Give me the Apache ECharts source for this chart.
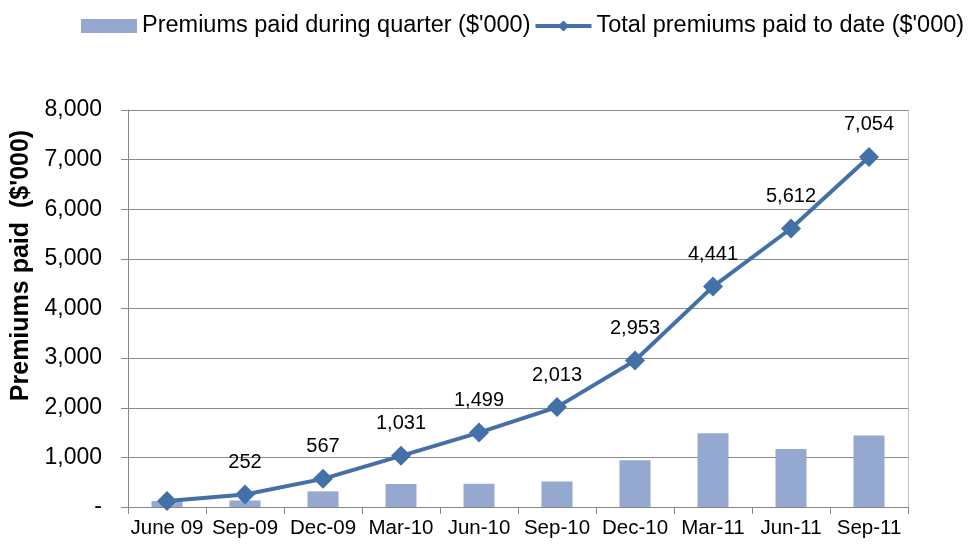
<!DOCTYPE html>
<html>
<head>
<meta charset="utf-8">
<script src="https://cdn.jsdelivr.net/npm/echarts@6/dist/echarts.min.js"></script>
<style>
  html, body { margin: 0; padding: 0; background: #fff; }
  #chart { width: 980px; height: 545px; }
</style>
</head>
<body>
<div id="chart"></div>
<script>
// quarters on the x axis
const quarters = ['June 09', 'Sep-09', 'Dec-09', 'Mar-10', 'Jun-10', 'Sep-10', 'Dec-10', 'Mar-11', 'Jun-11', 'Sep-11']
// premiums paid during each quarter ($'000)
const quarterly = [120, 132, 315, 464, 468, 514, 940, 1488, 1171, 1442]
// running total ($'000)
const cumulative = [120, 252, 567, 1031, 1499, 2013, 2953, 4441, 5612, 7054]
// label shown above each point, first one left blank
const showLabel = [false, true, true, true, true, true, true, true, true, true]

const font = 'Liberation Sans, Arial, sans-serif'
const axisGrey = '#868686'
const lineBlue = '#4470a8'

const chart = echarts.init(document.getElementById('chart'))
chart.setOption({
  animation: false,
  legend: {
    top: 9,
    left: 76,
    itemGap: 3,
    itemWidth: 56,
    itemHeight: 14,
    textStyle: { fontFamily: font, fontSize: 23.5, color: '#000' },
    data: [
      { name: "Premiums paid during quarter ($'000)", icon: 'rect' },
      { name: "Total premiums paid to date ($'000)", lineStyle: { width: 4, color: lineBlue } }
    ]
  },
  grid: { left: 128, right: 72, top: 110, bottom: 38, outerBoundsMode: 'none' },
  xAxis: {
    type: 'category',
    data: quarters,
    boundaryGap: true,
    axisLine: { lineStyle: { color: axisGrey, width: 1 } },
    axisTick: { show: true, length: 7, lineStyle: { color: axisGrey } },
    axisLabel: { fontFamily: font, fontSize: 20.5, color: '#000', margin: 11, interval: 0 },
    splitLine: { show: false }
  },
  yAxis: [
    {
      type: 'value',
      min: 0,
      max: 8000,
      interval: 1000,
      name: "Premiums paid  ($'000)",
      nameLocation: 'middle',
      nameGap: 92,
      nameTextStyle: {
        fontFamily: font, fontSize: 25, fontWeight: 'bold', color: '#000',
        padding: [0, 0, 0, 86] // pushes the title up the axis
      },
      axisLine: { show: true, lineStyle: { color: axisGrey } },
      axisTick: { show: true, length: 7, lineStyle: { color: axisGrey } },
      axisLabel: {
        fontFamily: font, fontSize: 23, color: '#000', margin: 26,
        formatter: v => v === 0 ? '-' : v.toLocaleString('en-US')
      },
      splitLine: { show: true, lineStyle: { color: '#8a8a8a', width: 1 } }
    },
    {
      // right-hand border of the plot area
      type: 'value',
      position: 'right',
      min: 0,
      max: 8000,
      interval: 1000,
      axisLine: { show: true, lineStyle: { color: '#c0c0c0' } },
      axisTick: { show: false },
      axisLabel: { show: false },
      splitLine: { show: false }
    }
  ],
  series: [
    {
      name: "Premiums paid during quarter ($'000)",
      type: 'bar',
      barWidth: 31,
      itemStyle: { color: '#95a9d0' },
      data: quarterly
    },
    {
      name: "Total premiums paid to date ($'000)",
      type: 'line',
      symbol: 'diamond',
      symbolSize: 20,
      lineStyle: { color: lineBlue, width: 4 },
      itemStyle: { color: lineBlue },
      data: cumulative.map((v, i) => ({
        value: v,
        label: {
          show: showLabel[i],
          position: 'top',
          distance: 12,
          fontFamily: font,
          fontSize: 20,
          color: '#000',
          formatter: p => p.value.toLocaleString('en-US')
        }
      }))
    }
  ]
})
</script>
</body>
</html>
